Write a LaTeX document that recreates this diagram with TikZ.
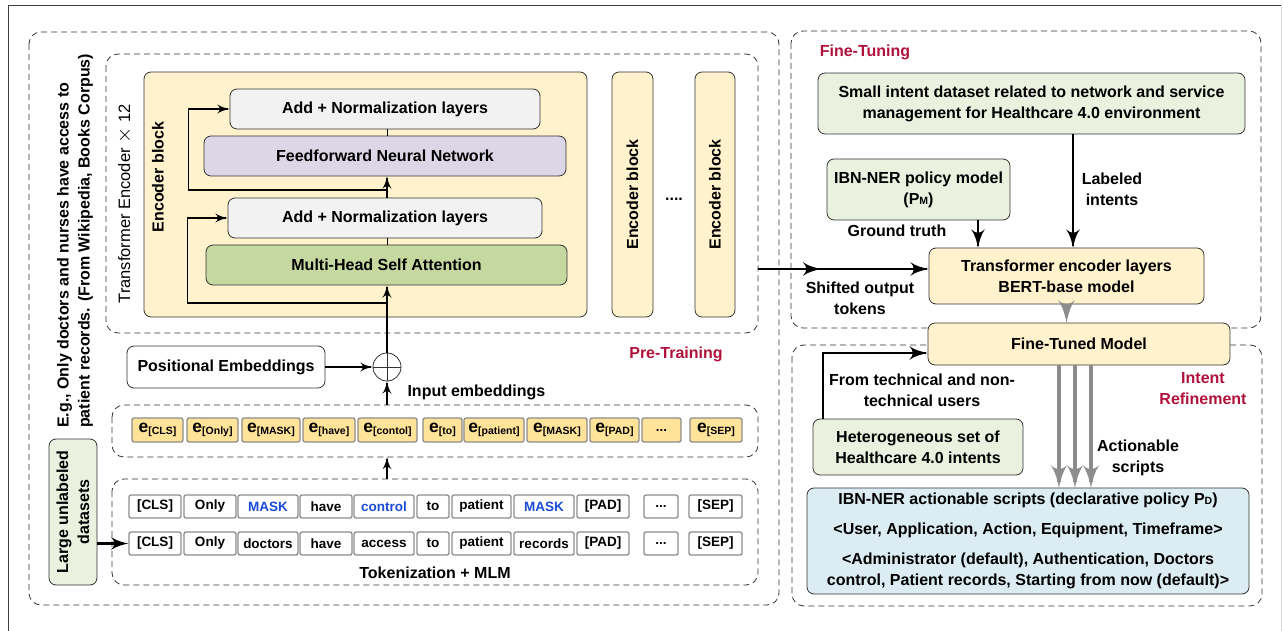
\documentclass[tikz,border=0pt]{standalone}
\usepackage{fontspec}
\setmainfont{Liberation Sans}
\usepackage{tikz}
\usetikzlibrary{arrows}
\usetikzlibrary{decorations.markings}
\usetikzlibrary{positioning}

\definecolor{encfill}{HTML}{FFF2CC}
\definecolor{normfill}{HTML}{F2F2F2}
\definecolor{ffnfill}{HTML}{DCD6E6}
\definecolor{attfill}{HTML}{C4D8A0}
\definecolor{datafill}{HTML}{EBF1DF}
\definecolor{embfill}{HTML}{FFE399}
\definecolor{scrfill}{HTML}{DBEDF3}
\definecolor{stagered}{HTML}{B0123B}
\definecolor{maskblue}{HTML}{1A4BD6}

\newcommand{\bsz}{\bfseries\fontsize{16}{21}\selectfont}
\newcommand{\tsz}{\bfseries\fontsize{13.5}{15}\selectfont}
\newcommand{\emb}[1]{{\fontsize{17.5}{17}\selectfont e}\raisebox{-2.5pt}{\fontsize{10.5}{10}\selectfont[#1]}}
\newcommand{\tinysub}[1]{{\fontsize{10.5}{10}\selectfont #1}}

\tikzset{arr/.style = {line width = 1.6, shorten >= 2,
                       decoration = {markings, mark = at position 1 with {\arrow[scale = #1]{latex'}}},
                       postaction = {decorate}},
         arr/.default = 1.6}
\tikzset{midarr/.style = {line width = 1.6, shorten >= 2,
                          decoration = {markings,
                                        mark = at position 0.37 with {\arrow[scale = 2.4]{latex'}},
                                        mark = at position 1 with {\arrow[scale = 2.4]{latex'}}},
                          postaction = {decorate}}}
\tikzset{garr/.style = {arr = 1.7, color = black!45, line width = 3.5, shorten >= 6}}
\tikzset{box/.style = {draw = black!80, rounded corners = 7, line width = 0.8, align = center, inner sep = 0}}
\tikzset{tok/.style = {draw = black!45, fill = white, rounded corners = 2, line width = 1.3,
                       minimum height = 23, inner sep = 0, font = \tsz}}
\tikzset{emb/.style = {tok, fill = embfill, minimum height = 24}}
\tikzset{dbox/.style = {draw = black!80, dash pattern = on 6pt off 4pt, rounded corners = 12, line width = 0.8}}
\tikzset{stage/.style = {text = stagered, align = center}}

\begin{document}
\begin{tikzpicture}[x = 1pt, y = -1pt, font = \bsz, align = center]
    \useasboundingbox (0, 0) rectangle (1283, 631);
    \draw [black!75] (8, 631) -- (8, 5) -- (1282, 5);
    \draw [black!15] (1281, 5) -- (1281, 631);

    % dashed stages
    \draw [dbox] (29, 32) rectangle (779, 605);
    \draw [dbox] (106, 54) rectangle (758, 333);
    \draw [dbox] (112, 405) rectangle (758, 457);
    \draw [dbox] (112, 479) rectangle (758, 585);
    \draw [dbox] (791, 31) rectangle (1261, 328);
    \draw [dbox] (792, 345) rectangle (1262, 606);

    % pre-training
    \node [box, fill = encfill, minimum width = 443, minimum height = 245] (enc) at (365.5, 194.5) {};
    \node [box, fill = normfill, minimum width = 310, minimum height = 40] (norm1) at (385, 109) {Add + Normalization layers};
    \node [box, fill = ffnfill, minimum width = 362, minimum height = 40] (ffn) at (385, 156) {Feedforward Neural Network};
    \node [box, fill = normfill, minimum width = 314, minimum height = 40] (norm2) at (385, 218) {Add + Normalization layers};
    \node [box, fill = attfill, minimum width = 361, minimum height = 40] (mhsa) at (386.5, 265) {Multi-Head Self Attention};
    \node [rotate = 90] (encl) at (158, 177) {Encoder block};
    \node [rotate = 90, font = \mdseries\fontsize{16.5}{21}\selectfont] (tenc) at (125, 204) {Transformer Encoder {\fontsize{22}{22}\selectfont$\times$} 12};
    \node [rotate = 90, anchor = west, align = left, inner sep = 0] (eg) at (75, 428) {E.g., Only doctors and nurses have access to\\patient records. (From Wikipedia, Books Corpus)};
    \node [box, fill = encfill, rotate = 90, minimum width = 245, minimum height = 41] (enc2) at (632.5, 194.5) {Encoder block};
    \node [box, fill = encfill, rotate = 90, minimum width = 245, minimum height = 40] (enc3) at (715, 194.5) {Encoder block};
    \node (edots) at (674, 199) {....};

    \node [circle, draw = black!80, line width = 0.8, fill = white, minimum size = 28, inner sep = 0,
           path picture = {\draw [line width = 0.8] (path picture bounding box.north) -- (path picture bounding box.south)
                                                    (path picture bounding box.west) -- (path picture bounding box.east);}] (plus) at (387, 367) {};
    \node [box, fill = white, minimum width = 198, minimum height = 42] (pos) at (226, 367) {Positional Embeddings};
    \node [anchor = west] (inemb) at (404, 392) {Input embeddings};
    \node [stage] (pretr) at (676, 354) {Pre-Training};

    \coordinate (res1) at (387, 303);
    \coordinate (res2) at (387, 190);
    \coordinate (embtop) at (387, 405);
    \coordinate (embbot) at (387, 457);
    \coordinate (toktop) at (387, 479);

    \draw [arr] (plus) -- (plus |- mhsa.south);
    \draw [line width = 1] (plus |- mhsa.north) -- (plus |- norm2.south);
    \draw [arr] (plus |- norm2.north) -- (plus |- ffn.south);
    \draw [line width = 1] (plus |- ffn.north) -- (plus |- norm1.south);
    \draw [arr] (res1) -| ([xshift = -40]norm2.west) -- (norm2.west);
    \draw [arr] (res2) -| ([xshift = -41]norm1.west) -- (norm1.west);
    \draw [arr] (pos) -- (plus);
    \draw [arr] (embtop) -- (plus);
    \draw [arr] (toktop) -- (embbot);

    % input embeddings
    \node [emb, minimum width = 51] (e1) at (157.5, 430) {\emb{CLS}};
    \node [emb, minimum width = 51] (e2) at (212.5, 430) {\emb{Only}};
    \node [emb, minimum width = 58] (e3) at (271, 430) {\emb{MASK}};
    \node [emb, minimum width = 52] (e4) at (329, 430) {\emb{have}};
    \node [emb, minimum width = 59] (e5) at (387.5, 430) {\emb{contol}};
    \node [emb, minimum width = 39] (e6) at (442.5, 430) {\emb{to}};
    \node [emb, minimum width = 60] (e7) at (494, 430) {\emb{patient}};
    \node [emb, minimum width = 60] (e8) at (557, 430) {\emb{MASK}};
    \node [emb, minimum width = 49] (e9) at (614.5, 430) {\emb{PAD}};
    \node [emb, minimum width = 39] (e10) at (661.5, 430) {...};
    \node [emb, minimum width = 52] (e11) at (716, 430) {\emb{SEP}};

    % tokens
    \node [tok, minimum width = 52] (m1) at (155, 506.5) {[CLS]};
    \node [tok, minimum width = 52] (m2) at (210, 506.5) {Only};
    \node [tok, minimum width = 60] (m3) at (268, 506.5) {\textcolor{maskblue}{MASK}};
    \node [tok, minimum width = 52] (m4) at (326, 506.5) {have};
    \node [tok, minimum width = 60] (m5) at (384, 506.5) {\textcolor{maskblue}{control}};
    \node [tok, minimum width = 32] (m6) at (433, 506.5) {to};
    \node [tok, minimum width = 59] (m7) at (481.5, 506.5) {patient};
    \node [tok, minimum width = 60] (m8) at (544, 506.5) {\textcolor{maskblue}{MASK}};
    \node [tok, minimum width = 52] (m9) at (603, 506.5) {[PAD]};
    \node [tok, minimum width = 34] (m10) at (661, 506.5) {...};
    \node [tok, minimum width = 53] (m11) at (715.5, 506.5) {[SEP]};

    \node [tok, minimum width = 52] (w1) at (155, 543.5) {[CLS]};
    \node [tok, minimum width = 52] (w2) at (210, 543.5) {Only};
    \node [tok, minimum width = 60] (w3) at (268, 543.5) {doctors};
    \node [tok, minimum width = 52] (w4) at (326, 543.5) {have};
    \node [tok, minimum width = 60] (w5) at (384, 543.5) {access};
    \node [tok, minimum width = 32] (w6) at (433, 543.5) {to};
    \node [tok, minimum width = 59] (w7) at (481.5, 543.5) {patient};
    \node [tok, minimum width = 60] (w8) at (544, 543.5) {records};
    \node [tok, minimum width = 52] (w9) at (603, 543.5) {[PAD]};
    \node [tok, minimum width = 34] (w10) at (661, 543.5) {...};
    \node [tok, minimum width = 53] (w11) at (715.5, 543.5) {[SEP]};
    \node (tokmlm) at (435, 573) {Tokenization + MLM};

    \node [box, fill = datafill, rotate = 90, minimum width = 146, minimum height = 48] (lud) at (73, 512) {Large unlabeled\\datasets};
    \draw [arr = 1.3, line width = 3.5, shorten >= 5] (lud.south |- w1) -- (w1);

    % fine-tuning
    \node [stage] (ftlab) at (865, 52) {Fine-Tuning};
    \node [box, fill = datafill, minimum width = 427, minimum height = 61] (sid) at (1031.5, 103.5) {Small intent dataset related to network and service\\management for Healthcare 4.0 environment};
    \node [box, fill = datafill, minimum width = 183, minimum height = 61] (pm) at (918.5, 189.5) {IBN-NER policy model\\(P\tinysub{M})};
    \node (gt) at (897, 231) {Ground truth};
    \node [box, fill = encfill, minimum width = 275, minimum height = 56] (tel) at (1066.5, 276) {Transformer encoder layers\\BERT-base model};
    \node (labint) at (1112, 189.5) {Labeled\\intents};
    \node (shift) at (860, 298) {Shifted output\\tokens};
    \coordinate (encout) at (758, 269);
    \draw [midarr] (encout) -- (encout -| tel.west);
    \draw [arr = 2.4] ([xshift = 59.5]pm.south) -- ([xshift = 59.5]pm.south |- tel.north);
    \draw [arr = 2.4] ([xshift = 41.5]sid.south) -- ([xshift = 41.5]sid.south |- tel.north);

    % intent refinement
    \node [box, fill = encfill, minimum width = 302, minimum height = 42] (ftm) at (1079, 344) {Fine-Tuned Model};
    \draw [garr] (tel.south) -- (tel.south |- ftm.north);
    \node [stage] (irlab) at (1203, 389) {Intent\\Refinement};
    \node [box, fill = datafill, minimum width = 210, minimum height = 56] (het) at (918, 447) {Heterogeneous set of\\Healthcare 4.0 intents};
    \node (fromu) at (922, 390.5) {From technical and non-\\technical users};
    \draw [arr = 2.4] ([xshift = -95]het.north) |- ([yshift = -9]ftm.west);
    \node [box, fill = scrfill, minimum width = 442, minimum height = 106] (scr) at (1028, 541) {IBN-NER actionable scripts (declarative policy P\tinysub{D})\\[9pt]<User, Application, Action, Equipment, Timeframe>\\[9pt]<Administrator (default), Authentication, Doctors\\control, Patient records, Starting from now (default)>};
    \draw [garr] ([xshift = -20]ftm.south) -- ([xshift = -20]ftm.south |- scr.north);
    \draw [garr] ([xshift = -4]ftm.south) -- ([xshift = -4]ftm.south |- scr.north);
    \draw [garr] ([xshift = 12]ftm.south) -- ([xshift = 12]ftm.south |- scr.north);
    \node (actlab) at (1138, 457.5) {Actionable\\scripts};
\end{tikzpicture}
\end{document}
